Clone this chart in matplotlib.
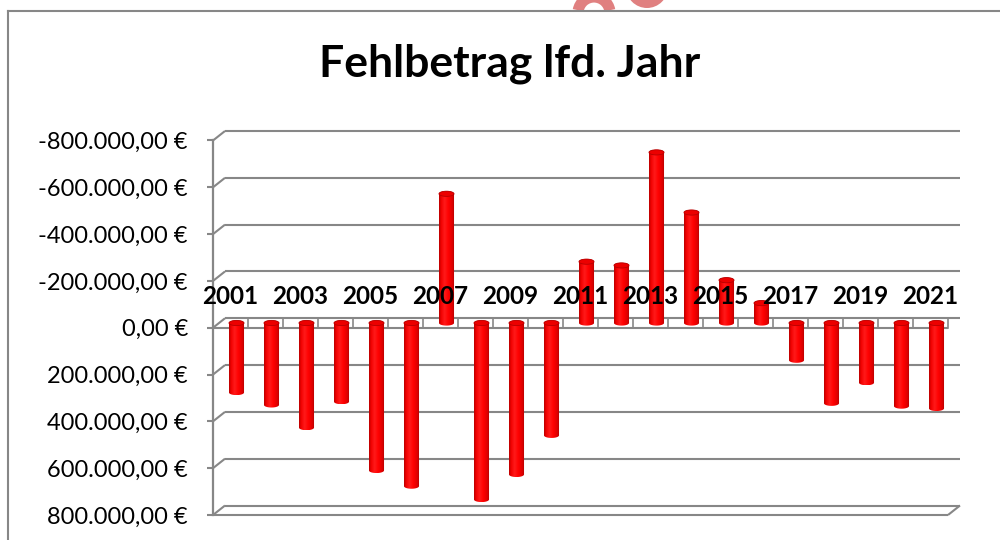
import numpy as np
import matplotlib
from matplotlib import pyplot as plt
from matplotlib.patches import Ellipse, PathPatch, Arc, Circle
from matplotlib.path import Path
from matplotlib.lines import Line2D
from matplotlib.colors import LinearSegmentedColormap
from matplotlib.transforms import offset_copy, IdentityTransform

matplotlib.use("Agg")
plt.rcParams["font.family"] = ["Lato", "DejaVu Sans"]

years = list(range(2001, 2022))
# Fehlbetrag in EUR (positive = Fehlbetrag, drawn downwards)
fehlbetrag = [297000, 350000, 447000, 336000, 630000, 697000, -552000,
              754000, 647000, 480000, -262000, -246000, -729000, -472000,
              -183000, -85000, 159000, 343000, 255000, 355000, 365000]
y_ticks = [-800000, -600000, -400000, -200000, 0, 200000, 400000, 600000, 800000]

GRAY = "#878787"
W, H = 1000, 540


def euro(v):
    s = f"{v:,.2f}".replace(",", "X").replace(".", ",").replace("X", ".")
    return s + " €"


fig = plt.figure(figsize=(W / 100, H / 100), dpi=100)
ax = fig.add_axes([213 / W, 1 - 515 / H, 735 / W, 374.5 / H])
ax.set_xlim(-0.5, len(years) - 0.5)
ax.set_ylim(800000, -800000)
ax.set_facecolor("none")
for s in ["top", "right", "bottom"]:
    ax.spines[s].set_visible(False)
ax.spines["left"].set_color(GRAY)
ax.spines["left"].set_linewidth(1.6)
ax.set_xticks([])
ax.set_yticks(y_ticks)
ax.set_yticklabels([euro(v) for v in y_ticks])
ax.tick_params(axis="y", length=4.5, width=1.5, color=GRAY, pad=13.5,
               labelsize=17, labelcolor="black")

# oblique depth offsets (pixels)
mid = offset_copy(ax.transData, fig=fig, x=6, y=4.75, units="dots")
back = offset_copy(ax.transData, fig=fig, x=12, y=9.5, units="dots")
inv = ax.transData.inverted()


def shifted(x, y, dx, dy):
    px, py = ax.transData.transform((x, y))
    return inv.transform((px + dx, py + dy))


x0, x1 = -0.5, len(years) - 0.5
line_kw = dict(color=GRAY, lw=1.5, clip_on=False, solid_capstyle="butt")

# back wall gridlines + left connectors
for v in y_ticks:
    ax.plot([x0, x1], [v, v], transform=back, zorder=1, **line_kw)
    bx, by = shifted(x0, v, 12, 9.5)
    ax.plot([x0, bx], [v, by], zorder=1, **line_kw)

# bottom floor front line and right connector
ax.plot([x0, x1], [800000, 800000], zorder=1, **line_kw)
bx, by = shifted(x1, 800000, 12, 9.5)
ax.plot([x1, bx], [800000, by], zorder=1, **line_kw)

# zero floor slab
ax.plot([x0, x1], [0, 0], zorder=2, **line_kw)
for k in range(len(years)):
    xb = k + 0.5
    _, yb = shifted(xb, 0, 0, 9.5)
    ax.plot([xb, xb], [0, yb], zorder=2, color=GRAY, lw=1.2, clip_on=False)

# cylinders
cyl = LinearSegmentedColormap.from_list(
    "cyl", [(0, "#b80000"), (0.12, "#f00000"), (0.35, "#ff1a1a"),
            (0.6, "#ff0000"), (0.85, "#dc0000"), (1, "#a80000")])
grad = np.linspace(0, 1, 64)[None, :]
bw = 0.43
a = bw / 2
b = 2.6 * 1600000 / 374.5
t = np.linspace(0, np.pi, 30)
for i, v in enumerate(fehlbetrag):
    y_up, y_lo = min(0, v), max(0, v)
    verts = [(i - a, y_up), (i - a, y_lo)]
    verts += list(zip(i - a * np.cos(t), y_lo + b * np.sin(t)))
    verts += [(i + a, y_up)]
    verts += list(zip(i + a * np.cos(t), y_up - b * np.sin(t)))
    verts += [(i - a, y_up)]
    outline = PathPatch(Path(verts, closed=False), transform=mid,
                        fc="none", ec="none")
    im = ax.imshow(grad, extent=(i - a, i + a, y_lo + b, y_up - b),
                   transform=mid, aspect="auto", cmap=cyl, zorder=3,
                   interpolation="bilinear")
    im.set_clip_path(outline)
    ax.add_patch(Ellipse((i, y_up), 2 * a, 2 * b, transform=mid,
                         fc="#ec0000", ec="#b80000", lw=0.6, zorder=3.5))

ax.set_xlim(x0, x1)
ax.set_ylim(800000, -800000)
ax.set_aspect("auto")

# category labels (every other year)
for i, yr in enumerate(years):
    if i % 2 == 0:
        ax.annotate(str(yr), xy=(i, 0), xytext=(0, 24),
                    textcoords="offset pixels", ha="center", va="baseline",
                    fontsize=17.5, fontweight="bold", zorder=5,
                    annotation_clip=False)

fig.text(510 / W, 1 - 77 / H, "Fehlbetrag lfd. Jahr", ha="center",
         va="baseline", fontsize=32, fontweight="bold")

# watermark fragment at the top edge
pink = "#e08080"
fig.add_artist(Arc((594, H - 13), 32, 32, theta1=10, theta2=170,
                   transform=IdentityTransform(), color=pink, lw=8))
fig.add_artist(Circle((647, H + 13), 21, transform=IdentityTransform(),
                      color=pink, lw=0))

# outer chart border
fig.add_artist(Line2D([8 / W, 8 / W], [0, 1 - 11 / H], transform=fig.transFigure,
                      color=GRAY, lw=1.5))
fig.add_artist(Line2D([8 / W, 1], [1 - 11 / H, 1 - 11 / H],
                      transform=fig.transFigure, color=GRAY, lw=1.5))

fig.savefig("out.png", dpi=100)
plt.close(fig)
